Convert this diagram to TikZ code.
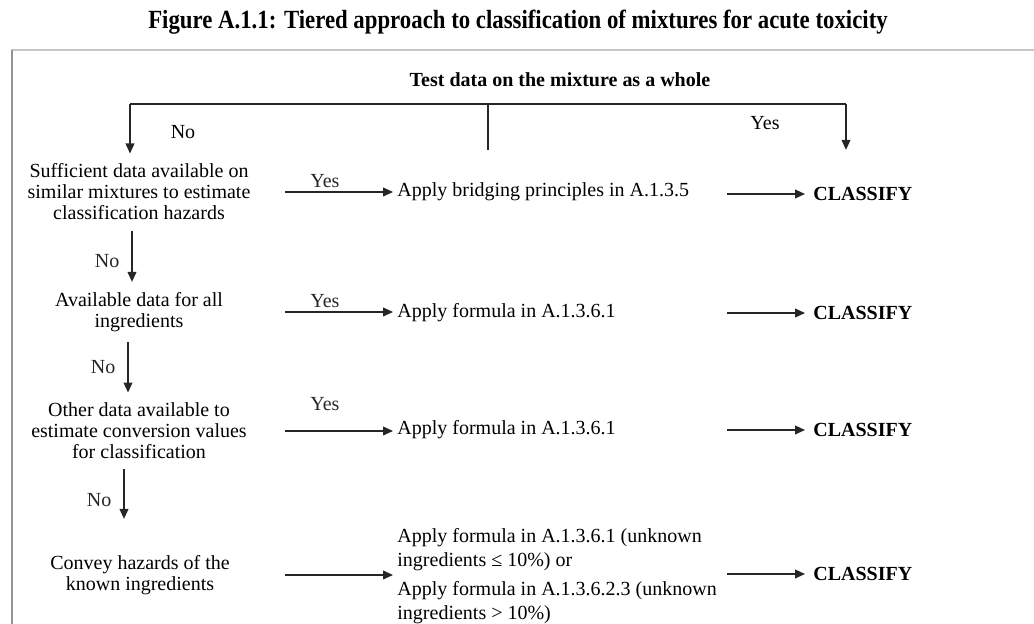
\documentclass[tikz,border=0pt]{standalone}
\usepackage{fontspec}
\setmainfont{Liberation Serif}
\usetikzlibrary{arrows.meta}
\tikzset{q/.style={align=center,inner sep=5pt}}
\tikzset{act/.style={anchor=west,inner sep=2pt}}
\tikzset{cls/.style={anchor=west,inner sep=4pt,font=\fontsize{10}{12}\selectfont\bfseries}}
\tikzset{line/.style={black!85,line width=0.7pt}}
\tikzset{arr/.style={line,-{Triangle[length=5pt,width=4.4pt]}}}
\tikzset{yes/.style={above,inner sep=2pt,pos=0.37}}
\tikzset{no/.style={left=5pt,inner sep=1pt}}

\begin{document}
\begin{tikzpicture}[x=0.5pt,y=-0.5pt,
    every node/.style={font=\fontsize{10}{10.5}\selectfont}]
  \useasboundingbox (0,0) rectangle (1034,624);
  \draw[gray!45,line width=1.1pt] (1034,50) -- (11,50);
  \draw[gray!85,line width=1pt] (12,50) -- (12,624);

  \node[font=\fontsize{11.4}{13}\selectfont\bfseries] (fig) at (518,22)
    {\scalebox{1}[1.15]{Figure A.1.1: Tiered approach to classification of mixtures for acute toxicity}};
  \node[font=\fontsize{10}{12}\selectfont\bfseries] (test) at (560,80) {Test data on the mixture as a whole};

  \node[q] (q1) at (139,192) {Sufficient data available on\\similar mixtures to estimate\\classification hazards};
  \node[q] (q2) at (139,312) {Available data for all\\ingredients};
  \node[q] (q3) at (139,431) {Other data available to\\estimate conversion values\\for classification};
  \node[q] (q4) at (140,575) {Convey hazards of the\\known ingredients};

  \node[act] (a1) at (393,192) {Apply bridging principles in A.1.3.5};
  \node[act] (a2) at (393,313) {Apply formula in A.1.3.6.1};
  \node[act] (a3) at (393,430) {Apply formula in A.1.3.6.1};
  \node[act,align=left,font=\fontsize{10}{12}\selectfont] (a4) at (393,576)
    {Apply formula in A.1.3.6.1 (unknown\\ingredients ≤ 10\%) or\\[2.5pt]Apply formula in A.1.3.6.2.3 (unknown\\ingredients > 10\%)};

  \node[cls] (c1) at (805,194) {CLASSIFY};
  \node[cls] (c2) at (805,313) {CLASSIFY};
  \node[cls] (c3) at (805,430) {CLASSIFY};
  \node[cls] (c4) at (805,574) {CLASSIFY};

  \coordinate (fork) at (488,104);
  \coordinate (lft) at (130,104);
  \coordinate (rgt) at (846,104);
  \coordinate (ys) at (285,0);
  \coordinate (cs) at (727,0);

  \draw[line] (lft) -- (rgt);
  \draw[line] (fork) -- ++(0,46);
  \draw[arr] (lft) -- (lft |- q1.north);
  \draw[arr,shorten >=14.5pt] (rgt) -- (rgt |- c1.north);
  \node (no0) at (183,132) {No};
  \node (yes0) at (765,123) {Yes};

  \draw[arr] (q1 -| ys) -- (q1 -| a1.west) node[yes] {Yes};
  \draw[arr] (q2 -| ys) -- (q2 -| a2.west) node[yes] {Yes};
  \draw[arr] (q3 -| ys) -- (q3 -| a3.west) node[yes,yshift=8pt] {Yes};
  \draw[arr] (q4 -| ys) -- (q4 -| a4.west);

  \draw[arr] (c1 -| cs) -- (c1.west);
  \draw[arr] (c2 -| cs) -- (c2.west);
  \draw[arr] (c3 -| cs) -- (c3.west);
  \draw[arr] (c4 -| cs) -- (c4.west);

  \draw[arr] ([xshift=-3.5pt]q1.south) -- ([xshift=-3.5pt]q2.north) node[no,pos=.6] {No};
  \draw[arr] ([xshift=-5.5pt]q2.south) -- ([xshift=-5.5pt]q3.north) node[no,pos=.5] {No};
  \draw[arr,shorten >=13pt] ([xshift=-7.5pt]q3.south) -- ([xshift=-8pt]q4.north) node[no,pos=.4] {No};
\end{tikzpicture}
\end{document}
